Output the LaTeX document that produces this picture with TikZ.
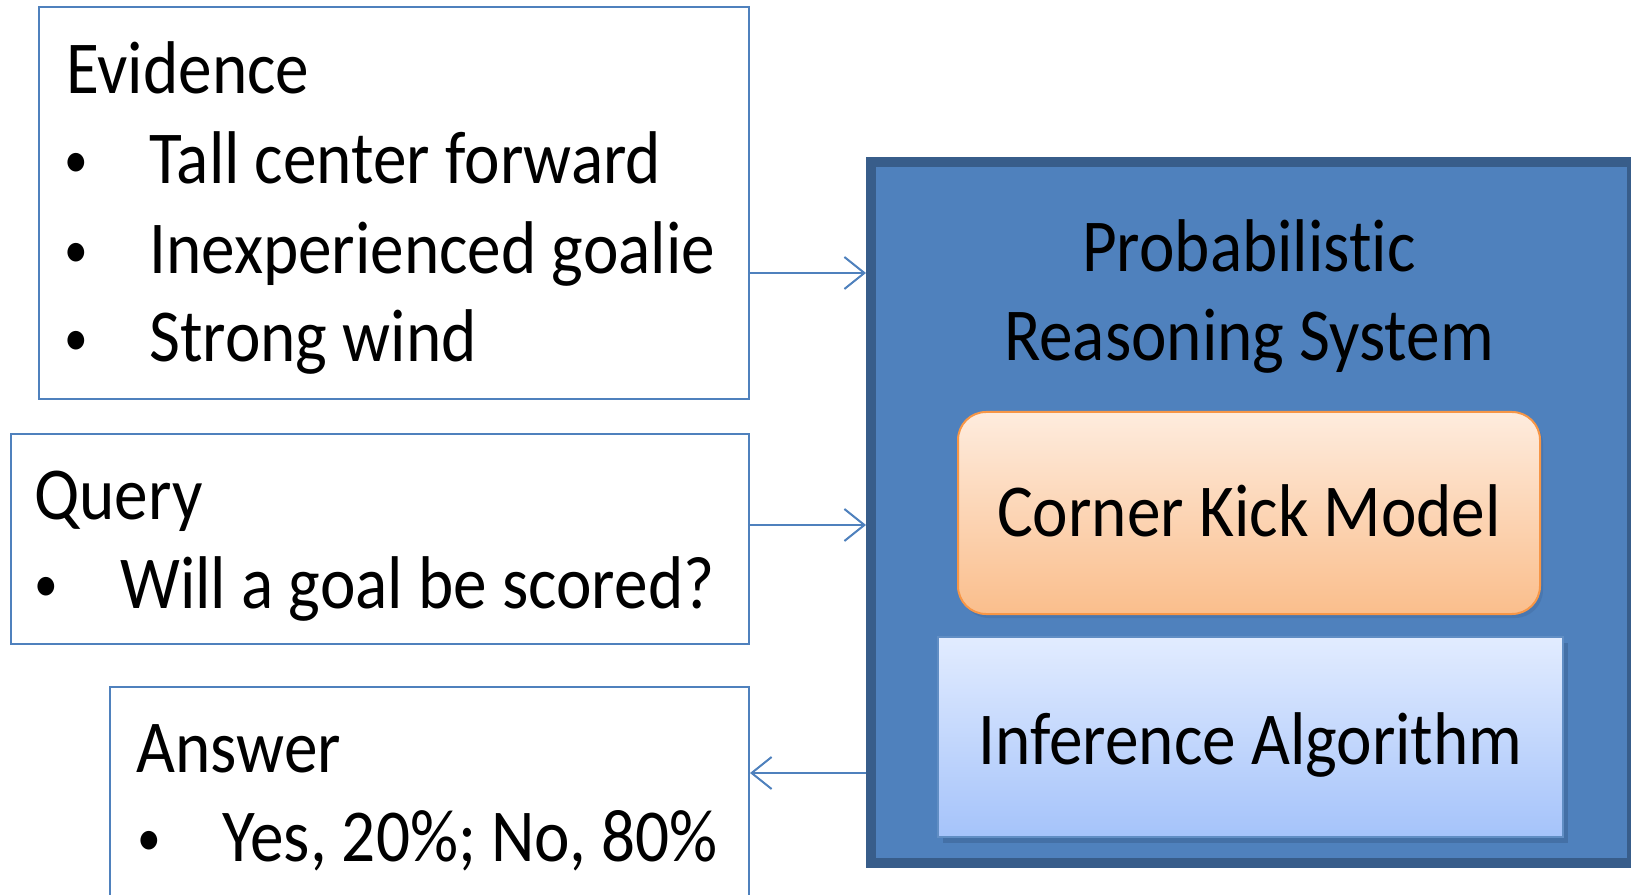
\documentclass[tikz,border=0pt]{standalone}
\usepackage{fontspec}
\setmainfont{Carlito}[FakeStretch=0.9,Ligatures=NoCommon]
\usetikzlibrary{arrows.meta,shadows}
\definecolor{frameblue}{RGB}{79,129,189}
\definecolor{darkblue}{RGB}{56,93,138}
\definecolor{orangeline}{RGB}{247,150,70}
\definecolor{orangetop}{RGB}{254,236,222}
\definecolor{orangebot}{RGB}{250,190,140}
\definecolor{infertop}{RGB}{226,236,255}
\definecolor{inferbot}{RGB}{165,195,250}

\begin{document}
\begin{tikzpicture}[x=0.2mm,y=-0.2mm,>={Straight Barb[length=4mm,width=6.4mm]},font=\fontsize{42.5}{51}\selectfont]
        \tikzstyle{box}=[draw=frameblue,line width=0.4mm,inner sep=0]
        \tikzstyle{txt}=[anchor=base west,inner sep=0,text=black]
        \tikzstyle{mid}=[anchor=base,inner sep=0,text=black]
        \tikzstyle{dot}=[anchor=base,inner sep=0,text=black,font=\fontsize{30}{36}\selectfont]
        \tikzstyle{flow}=[->,draw=frameblue,line width=0.4mm]

        \path[use as bounding box,clip] (0,0) rectangle (1631,895);

        % left boxes
        \node[box,minimum width=142mm,minimum height=78.4mm]   (evidence) at (394,203) {};
        \node[box,minimum width=147.6mm,minimum height=42mm]   (query)    at (380,539) {};
        \node[box,minimum width=127.8mm,minimum height=43.6mm] (answer)   at (429.5,796) {};

        \node[txt] (evtitle) at (66,94)   {Evidence};
        \node[dot] (evdot1)  at (76,178)  {•};
        \node[txt] (ev1)     at (149,184) {Tall center forward};
        \node[dot] (evdot2)  at (76,268)  {•};
        \node[txt] (ev2)     at (149,274) {Inexperienced goalie};
        \node[dot] (evdot3)  at (76,356)  {•};
        \node[txt] (ev3)     at (149,362) {Strong wind};

        \node[txt] (qtitle) at (34,520)  {Query};
        \node[dot] (qdot)   at (46,602)  {•};
        \node[txt] (q1)     at (120,608) {Will a goal be scored?};

        \node[txt] (atitle) at (136,772) {Answer};
        \node[dot] (adot)   at (149,855) {•};
        \node[txt] (a1)     at (222,861) {Yes, 20\%; No, 80\%};

        % reasoning system
        \node[draw=darkblue,fill=frameblue,line width=2mm,minimum width=152.2mm,minimum height=140.2mm] (system) at (1251.5,512.5) {};
        \node[mid] (sys1) at (1249,272) {Probabilistic};
        \node[mid] (sys2) at (1249,361) {Reasoning System};

        \node[draw=orangeline,line width=0.4mm,rounded corners=5.6mm,top color=orangetop,bottom color=orangebot,
              drop shadow={shadow xshift=0.6mm,shadow yshift=-0.8mm,opacity=0.25,fill=darkblue},
              minimum width=116.4mm,minimum height=40.4mm] (model) at (1249,513) {};
        \node[mid] (modeltxt) at (1249,537) {Corner Kick Model};

        \node[draw=frameblue!90!white,line width=0.3mm,top color=infertop,bottom color=inferbot,
              drop shadow={shadow xshift=1mm,shadow yshift=-1.2mm,opacity=0.45,fill=darkblue},
              minimum width=125mm,minimum height=40mm] (inference) at (1250.5,737) {};
        \node[mid] (infertxt) at (1250.5,764) {Inference Algorithm};

        % connectors
        \draw[flow] (evidence.east |- 0,273) -- (system.west |- 0,273);
        \draw[flow] (query.east |- 0,525)    -- (system.west |- 0,525);
        \draw[flow] (system.west |- 0,773)   -- (answer.east |- 0,773);
\end{tikzpicture}
\end{document}
